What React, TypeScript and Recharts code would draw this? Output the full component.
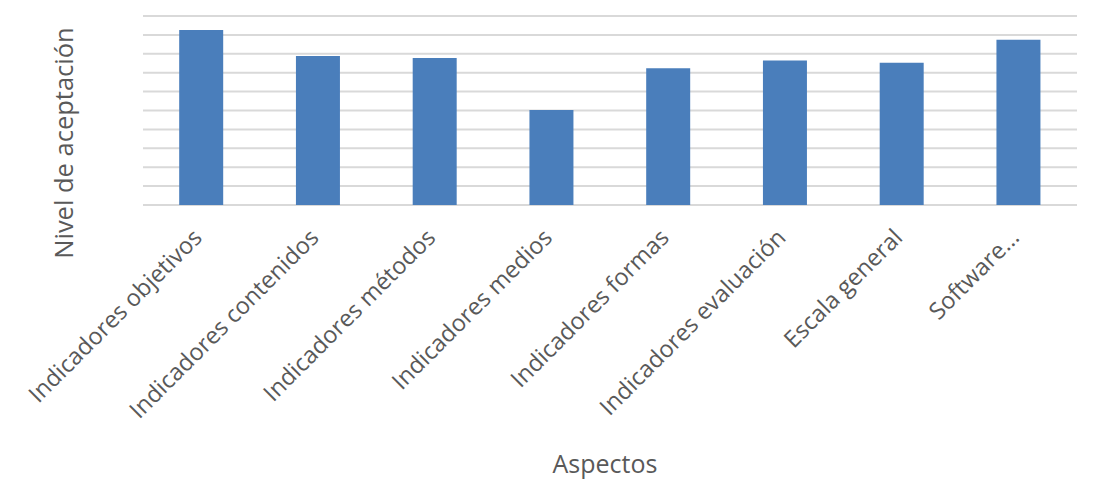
import { BarChart, Bar, XAxis, YAxis, CartesianGrid } from "recharts";

const aspectos = [
  "Indicadores objetivos",
  "Indicadores contenidos",
  "Indicadores métodos",
  "Indicadores medios",
  "Indicadores formas",
  "Indicadores evaluación",
  "Escala general",
  "Software...",
];

const nivel = [4.63, 3.94, 3.89, 2.51, 3.62, 3.82, 3.76, 4.37];

const yTicks = [0, 0.5, 1, 1.5, 2, 2.5, 3, 3.5, 4, 4.5, 5];

const data = aspectos.map((a, i) => ({ aspecto: a, nivel: nivel[i] }));

const FONT = "'Open Sans', sans-serif";
const GREY = "#595959";

function AngledTick(props: any) {
  const { x, y, payload } = props;
  return (
    <g transform={`translate(${x + 2},${y + 26}) rotate(-45)`}>
      <text
        x={0}
        y={0}
        textAnchor="end"
        fill={GREY}
        fontSize={23.5}
        fontFamily={FONT}
      >
        {payload.value}
      </text>
    </g>
  );
}

const NoTick = () => <g />;

export default function App() {
  return (
    <div style={{ position: "absolute", left: 0, top: 0, background: "#fff" }}>
      <BarChart
        width={1101}
        height={497}
        data={data}
        margin={{ top: 16, right: 24, bottom: 0, left: 0 }}
        barCategoryGap="31%"
      >
        <CartesianGrid vertical={false} stroke="#d9d9d9" strokeWidth={2} />
        <XAxis
          dataKey="aspecto"
          interval={0}
          axisLine={false}
          tickLine={false}
          height={292}
          tick={<AngledTick />}
          label={{
            content: () => (
              <text
                x={605}
                y={473}
                textAnchor="middle"
                fill={GREY}
                fontSize={25}
                fontFamily={FONT}
              >
                Aspectos
              </text>
            ),
          }}
        />
        <YAxis
          domain={[0, 5]}
          ticks={yTicks}
          interval={0}
          tick={<NoTick />}
          axisLine={false}
          tickLine={false}
          width={143}
          label={{
            content: () => (
              <text
                x={73}
                y={143}
                transform="rotate(-90 73 143)"
                textAnchor="middle"
                fill={GREY}
                fontSize={25.5}
                fontFamily={FONT}
              >
                Nivel de aceptación
              </text>
            ),
          }}
        />
        <Bar dataKey="nivel" fill="#4A7EBB" isAnimationActive={false} />
      </BarChart>
    </div>
  );
}
